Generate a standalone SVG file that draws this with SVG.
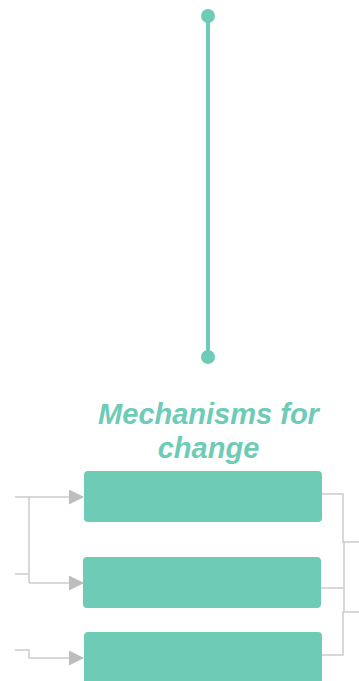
<svg xmlns="http://www.w3.org/2000/svg" width="359" height="681" viewBox="0 0 359 681">
<style>
.box{fill:#6ecbb6}
.conn{fill:none;stroke:#cccccc;stroke-width:1.5}
.title{font-family:"Liberation Sans",Arial,sans-serif;font-weight:bold;font-style:italic;font-size:29px;fill:#6ecbb6;text-anchor:middle}
</style>
<defs>
<marker id="arr" markerWidth="15" markerHeight="15" refX="14" refY="7.5" orient="auto" markerUnits="userSpaceOnUse">
<path d="M0,0 L15,7.5 L0,15 Z" fill="#bdbdbd"/>
</marker>
</defs>
<g id="timeline">
<line x1="208" y1="16" x2="208" y2="357" stroke="#6ecbb6" stroke-width="4"/>
<circle cx="208" cy="16" r="7" fill="#6ecbb6"/>
<circle cx="208" cy="357" r="7" fill="#6ecbb6"/>
</g>
<g id="title">
<text class="title" x="208.5" y="424">Mechanisms for</text>
<text class="title" x="208.5" y="458">change</text>
</g>
<g id="connectors">
<path class="conn" d="M15,497 H29 V583"/>
<path class="conn" d="M15,574 H29"/>
<path class="conn" d="M29,497 H83" marker-end="url(#arr)"/>
<path class="conn" d="M29,583 H83" marker-end="url(#arr)"/>
<path class="conn" d="M15,650 H29 V658 H83" marker-end="url(#arr)"/>
<path class="conn" d="M322,494 H343 V542 H359"/>
<path class="conn" d="M321,588 H344"/>
<path class="conn" d="M344,542 V612"/>
<path class="conn" d="M322,655 H343 V612 H359"/>
</g>
<g id="node1"><rect class="box" x="84" y="471" width="238" height="51" rx="4"/></g>
<g id="node2"><rect class="box" x="83" y="557" width="238" height="51" rx="4"/></g>
<g id="node3"><rect class="box" x="84" y="632" width="238" height="53" rx="4"/></g>
</svg>
